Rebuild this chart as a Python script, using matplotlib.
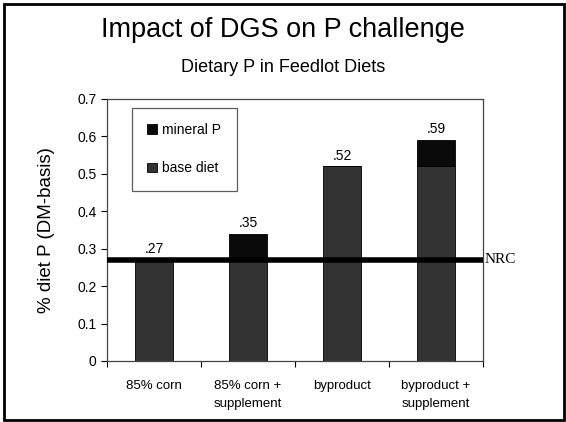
import matplotlib.pyplot as plt
from matplotlib.patches import Rectangle
import numpy as np

categories = ["85% corn", "85% corn +\nsupplement", "byproduct", "byproduct +\nsupplement"]
base_diet = [0.27, 0.27, 0.52, 0.52]
mineral_p = [0.0, 0.07, 0.0, 0.07]
bar_labels = [".27", ".35", ".52", ".59"]
nrc_level = 0.27

plt.rcParams['font.family'] = ['Liberation Sans', 'DejaVu Sans']

fig = plt.figure(figsize=(5.66, 4.22), dpi=100)
ax = fig.add_axes([107 / 566, 1 - 361 / 422, 376 / 566, 262 / 422])

x = np.arange(len(categories))
ax.bar(x, base_diet, width=0.4, color="#333333", edgecolor="black", linewidth=0.6,
       label="base diet", zorder=2)
ax.bar(x, mineral_p, width=0.4, bottom=base_diet, color="#0a0a0a", edgecolor="black",
       linewidth=0.6, label="mineral P", zorder=2)

for i in range(len(categories)):
    top = base_diet[i] + mineral_p[i]
    ax.text(x[i], top + 0.01, bar_labels[i], ha="center", va="bottom", fontsize=10)

ax.axhline(nrc_level, color="black", linewidth=4, zorder=3)
ax.text(1.005, nrc_level, "NRC", transform=ax.get_yaxis_transform(), ha="left",
        va="center", fontsize=11, family="Liberation Serif")

ax.set_xlim(-0.5, len(categories) - 0.5)
ax.set_ylim(0, 0.7)
ax.set_yticks(np.arange(0, 0.71, 0.1))
ax.set_yticklabels(["0", "0.1", "0.2", "0.3", "0.4", "0.5", "0.6", "0.7"], fontsize=10)
ax.set_xticks(np.arange(-0.5, len(categories), 1.0))
ax.set_xticklabels([])
ax.set_xticks(x, minor=True)
ax.set_xticklabels(categories, minor=True, fontsize=9.5, linespacing=1.6)
ax.tick_params(axis="x", which="minor", length=0, pad=14)
ax.tick_params(axis="x", which="major", length=4, direction="out")
ax.tick_params(axis="y", length=4, direction="out")
for s in ax.spines.values():
    s.set_color("#444444")
    s.set_linewidth(0.9)

ax.set_ylabel("% diet P (DM-basis)", fontsize=13.5, labelpad=16)

handles, labels = ax.get_legend_handles_labels()
leg = ax.legend(handles[::-1], labels[::-1], loc="upper left",
                bbox_to_anchor=(0.066, 0.967), fontsize=10, frameon=True, fancybox=False,
                handlelength=0.7, handleheight=0.7, labelspacing=1.75, borderpad=1.1,
                handletextpad=0.4, borderaxespad=0)
leg.get_frame().set_edgecolor("#333333")
leg.get_frame().set_linewidth(0.9)

fig.text(0.5, 1 - 30 / 422, "Impact of DGS on P challenge", ha="center", va="center",
         fontsize=19.5)
fig.text(0.5, 1 - 68 / 422, "Dietary P in Feedlot Diets", ha="center", va="center",
         fontsize=13)

fig.patches.append(Rectangle((4 / 566, 2 / 422), 560 / 566, 416 / 422,
                             transform=fig.transFigure, fill=False,
                             edgecolor="black", linewidth=2))

plt.savefig("out.png", dpi=100)
